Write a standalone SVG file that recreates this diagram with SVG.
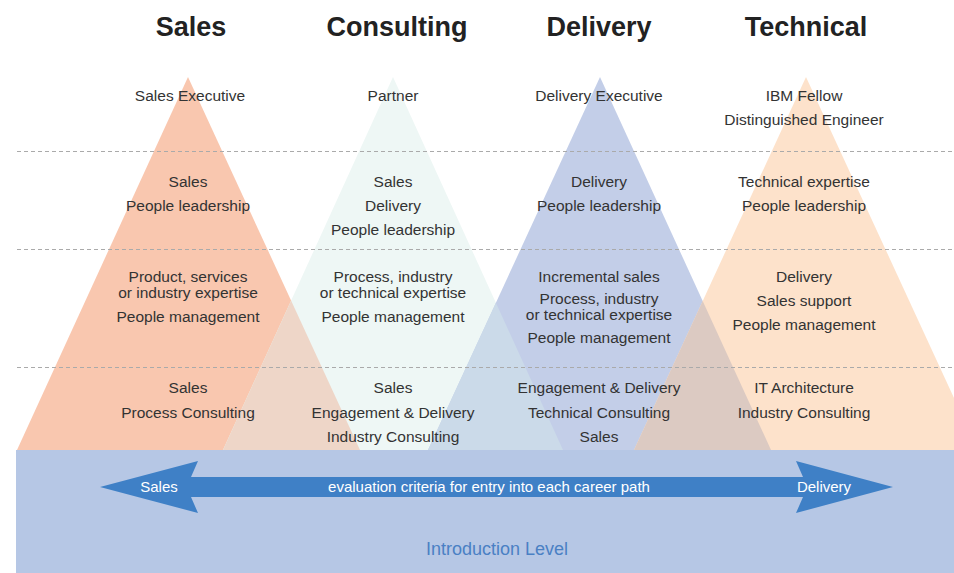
<svg xmlns="http://www.w3.org/2000/svg" width="954" height="573" viewBox="0 0 954 573">
<style>
.t{font-family:"Liberation Sans",Arial,sans-serif;font-size:15.5px;fill:#333;text-anchor:middle}
.h{font-family:"Liberation Sans",Arial,sans-serif;font-size:27px;font-weight:bold;fill:#222;text-anchor:middle}
.w{font-family:"Liberation Sans",Arial,sans-serif;font-size:15px;fill:#fff;text-anchor:middle}
.dash{stroke:#aaa;stroke-width:1;stroke-dasharray:4 3;fill:none}
</style>
<defs>
<polygon id="triS" points="188,77 17,450 360,450"/>
<polygon id="triC" points="393,77 223,450 563,450"/>
<polygon id="triD" points="600,77 428,450 771,450"/>
<polygon id="triT" points="806,77 634,450 978,450"/>
<clipPath id="clipS"><use href="#triS"/></clipPath>
<clipPath id="clipD"><use href="#triD"/></clipPath>
</defs>
<rect width="954" height="573" fill="#fff"/>
<g id="pyramids">
<use href="#triS" fill="#F9C7AF"/>
<use href="#triC" fill="#EEF7F5"/>
<use href="#triD" fill="#C3CEE8"/>
<use href="#triT" fill="#FDE2CB"/>
<use href="#triC" fill="#EED6C8" clip-path="url(#clipS)"/>
<use href="#triC" fill="#CBDAE9" clip-path="url(#clipD)"/>
<use href="#triT" fill="#DCCAC2" clip-path="url(#clipD)"/>
</g>
<g id="levels">
<line class="dash" x1="17" y1="151.5" x2="954" y2="151.5"/>
<line class="dash" x1="17" y1="249.5" x2="954" y2="249.5"/>
<line class="dash" x1="17" y1="367.5" x2="954" y2="367.5"/>
</g>
<g id="titles">
<text class="h" x="191" y="36">Sales</text>
<text class="h" x="397" y="36">Consulting</text>
<text class="h" x="599" y="36">Delivery</text>
<text class="h" x="806" y="36">Technical</text>
</g>
<g id="sales">
<text class="t" x="190" y="101">Sales Executive</text>
<text class="t" x="188" y="187">Sales</text>
<text class="t" x="188" y="211">People leadership</text>
<text class="t" x="188" y="282">Product, services</text>
<text class="t" x="188" y="298">or industry expertise</text>
<text class="t" x="188" y="322">People management</text>
<text class="t" x="188" y="393">Sales</text>
<text class="t" x="188" y="418">Process Consulting</text>
</g>
<g id="consulting">
<text class="t" x="393" y="101">Partner</text>
<text class="t" x="393" y="187">Sales</text>
<text class="t" x="393" y="211">Delivery</text>
<text class="t" x="393" y="235">People leadership</text>
<text class="t" x="393" y="282">Process, industry</text>
<text class="t" x="393" y="298">or technical expertise</text>
<text class="t" x="393" y="322">People management</text>
<text class="t" x="393" y="393">Sales</text>
<text class="t" x="393" y="418">Engagement &amp; Delivery</text>
<text class="t" x="393" y="442">Industry Consulting</text>
</g>
<g id="delivery">
<text class="t" x="599" y="101">Delivery Executive</text>
<text class="t" x="599" y="187">Delivery</text>
<text class="t" x="599" y="211">People leadership</text>
<text class="t" x="599" y="282">Incremental sales</text>
<text class="t" x="599" y="304">Process, industry</text>
<text class="t" x="599" y="320">or technical expertise</text>
<text class="t" x="599" y="343">People management</text>
<text class="t" x="599" y="393">Engagement &amp; Delivery</text>
<text class="t" x="599" y="418">Technical Consulting</text>
<text class="t" x="599" y="442">Sales</text>
</g>
<g id="technical">
<text class="t" x="804" y="101">IBM Fellow</text>
<text class="t" x="804" y="125">Distinguished Engineer</text>
<text class="t" x="804" y="187">Technical expertise</text>
<text class="t" x="804" y="211">People leadership</text>
<text class="t" x="804" y="282">Delivery</text>
<text class="t" x="804" y="306">Sales support</text>
<text class="t" x="804" y="330">People management</text>
<text class="t" x="804" y="393">IT Architecture</text>
<text class="t" x="804" y="418">Industry Consulting</text>
</g>
<g id="intro">
<rect x="16" y="450" width="938" height="123" fill="#B6C7E5"/>
<text x="497" y="555" font-family="Liberation Sans, Arial, sans-serif" font-size="18" fill="#4A80C4" text-anchor="middle">Introduction Level</text>
</g>
<g id="connectors">
<polygon points="100,487 198,461 191,477 803,477 796,461 893,487 796,513 803,497 191,497 198,513" fill="#3F80C6"/>
<text class="w" x="159" y="492">Sales</text>
<text class="w" x="489" y="492">evaluation criteria for entry into each career path</text>
<text class="w" x="824" y="492">Delivery</text>
</g>
</svg>
